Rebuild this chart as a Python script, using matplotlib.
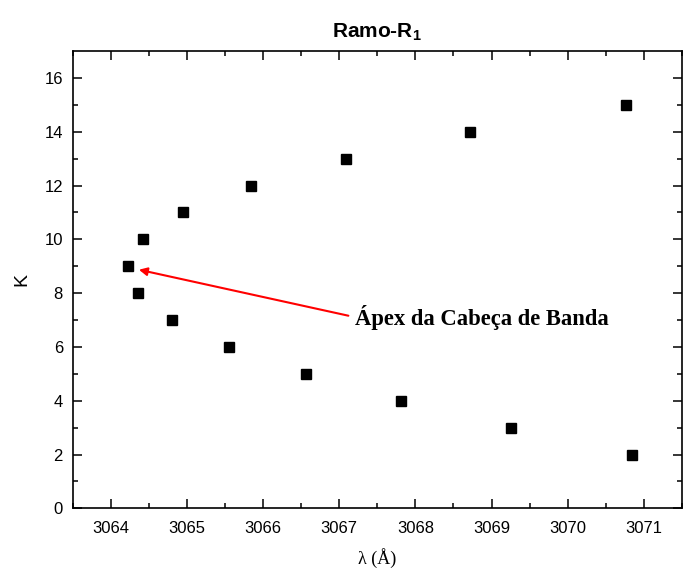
import matplotlib
matplotlib.use("Agg")
import matplotlib.pyplot as plt

# Branch R1: rotational quantum number K versus wavelength
wavelength = [3070.85, 3069.25, 3067.81, 3066.56, 3065.55, 3064.81, 3064.36,
              3064.23, 3064.42, 3064.95, 3065.84, 3067.09, 3068.72, 3070.76]
k_values = [2, 3, 4, 5, 6, 7, 8, 9, 10, 11, 12, 13, 14, 15]

x_ticks = [3064, 3065, 3066, 3067, 3068, 3069, 3070, 3071]
y_ticks = [0, 2, 4, 6, 8, 10, 12, 14, 16]

plt.rcParams["font.family"] = ["Liberation Sans", "DejaVu Sans"]
plt.rcParams["mathtext.fontset"] = "custom"
plt.rcParams["mathtext.rm"] = "Liberation Sans:bold"
plt.rcParams["mathtext.bf"] = "Liberation Sans:bold"

fig = plt.figure(figsize=(6.83, 5.70), dpi=100)
ax = fig.add_axes([0.1064, 0.1082, 0.8921, 0.8023])

ax.plot(wavelength, k_values, "s", color="black", markersize=6.5, linestyle="none")

ax.set_xlim(3063.5, 3071.46)
ax.set_ylim(0, 17)
ax.set_xticks(x_ticks)
ax.set_yticks(y_ticks)
ax.set_xticks([x + 0.5 for x in [3063] + x_ticks], minor=True)
ax.set_yticks(list(range(1, 17, 2)), minor=True)

ax.tick_params(which="both", direction="in", top=True, right=True,
               labelsize=12, width=1.1)
ax.tick_params(axis="x", pad=9)
ax.tick_params(axis="y", pad=7)
ax.tick_params(which="major", length=6.2)
ax.tick_params(which="minor", length=3.4)
for spine in ax.spines.values():
    spine.set_linewidth(1.2)

ax.set_title(r"Ramo-R$_1$", fontsize=15, fontweight="bold", pad=10)
ax.set_xlabel("λ (Å)", family="Liberation Serif", fontsize=13, labelpad=9)
ax.set_ylabel("K", fontsize=14, labelpad=10)

# arrow pointing at the band head, label placed to its right
ax.annotate("", xy=(3064.37, 8.87), xytext=(3067.12, 7.16),
            arrowprops=dict(arrowstyle="-|>", color="red", lw=1.5,
                            mutation_scale=12, shrinkA=0, shrinkB=0))
ax.text(3067.21, 7.08, "Ápex da Cabeça de Banda",
        family="Liberation Serif", fontweight="bold", fontsize=16.3,
        ha="left", va="center")

fig.savefig("out.png", dpi=100)
